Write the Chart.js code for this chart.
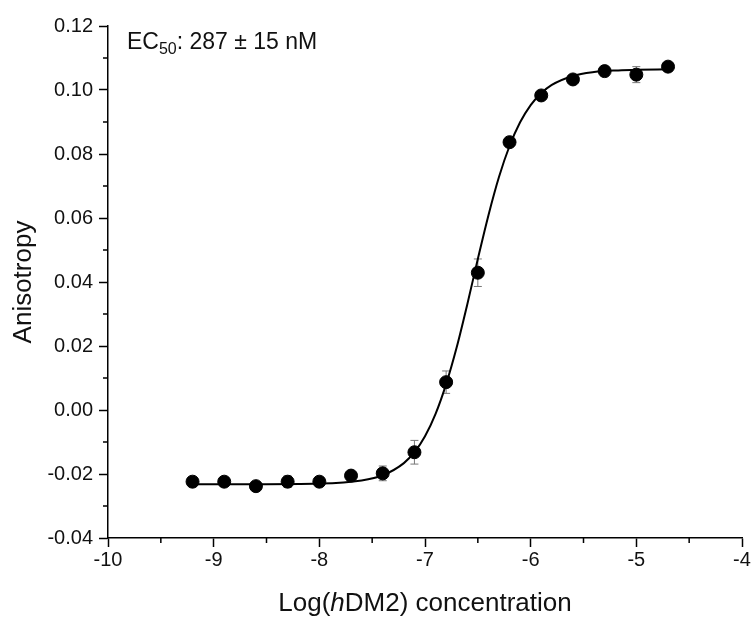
<!DOCTYPE html>
<html>
<head>
<meta charset="utf-8">
<script src="https://cdn.jsdelivr.net/npm/chart.js@4.4.0/dist/chart.umd.min.js"></script>
<style>
  html, body { margin: 0; padding: 0; background: #fff; }
</style>
</head>
<body>
<canvas id="myChart" width="755" height="619"></canvas>
<script>
    // measured points: log concentration, anisotropy, error (sd)
    let logConc = [-9.2, -8.9, -8.6, -8.3, -8.0, -7.7, -7.4, -7.1, -6.8, -6.5, -6.2, -5.9, -5.6, -5.3, -5.0, -4.7];
    let anisotropy = [-0.0224, -0.0224, -0.0238, -0.0224, -0.0224, -0.0205, -0.0198, -0.0132, 0.0087, 0.0429, 0.0837, 0.0983, 0.1033, 0.1059, 0.1048, 0.1073];
    let errors = [0.0012, 0.0008, 0.0008, 0.0018, 0.0012, 0.0012, 0.0023, 0.0037, 0.0035, 0.0043, 0.0006, 0.0006, 0.0008, 0.0006, 0.0025, 0.0006];

    // fitted curve
    let fitX = [-9.2, -8.6, -8.0, -7.6, -7.4, -7.2, -7.1, -7.0, -6.9, -6.8, -6.7, -6.6, -6.5, -6.4, -6.3, -6.2, -6.1, -6.0, -5.9, -5.8, -5.6, -5.4, -5.2, -5.0, -4.7];
    let fitY = [-0.0232, -0.0232, -0.0230, -0.0220, -0.0204, -0.0166, -0.0132, -0.0082, -0.0012, 0.0081, 0.0196, 0.0330, 0.0472, 0.0608, 0.0728, 0.0825, 0.0899, 0.0953, 0.0990, 0.1016, 0.1044, 0.1056, 0.1061, 0.1063, 0.1065];

    let xTicks = [-10, -9, -8, -7, -6, -5, -4];
    let xMinor = [-9.5, -8.5, -7.5, -6.5, -5.5, -4.5];
    let yTicks = [-0.04, -0.02, 0.00, 0.02, 0.04, 0.06, 0.08, 0.10, 0.12];
    let yMinor = [-0.03, -0.01, 0.01, 0.03, 0.05, 0.07, 0.09, 0.11];

    let xTitle = ['Log(', 'h', 'DM2) concentration'];
    let yTitle = 'Anisotropy';
    let ecLabel = ['EC', '50', ': 287 ± 15 nM'];

    const fam = '"Liberation Sans", Arial, sans-serif';

    let points = logConc.map((x, i) => ({x: x, y: anisotropy[i]}));
    let curve = fitX.map((x, i) => ({x: x, y: fitY[i]}));

    const extras = {
        id: 'extras',
        beforeDatasetsDraw(chart) {
            let ctx = chart.ctx;
            let xs = chart.scales.x, ys = chart.scales.y;
            ctx.save();
            ctx.strokeStyle = '#777';
            ctx.lineWidth = 1;
            for (let i = 0; i < logConc.length; i++) {
                let px = xs.getPixelForValue(logConc[i]);
                let top = ys.getPixelForValue(anisotropy[i] + errors[i]);
                let bot = ys.getPixelForValue(anisotropy[i] - errors[i]);
                ctx.beginPath();
                ctx.moveTo(px, top); ctx.lineTo(px, bot);
                ctx.moveTo(px - 4, top); ctx.lineTo(px + 4, top);
                ctx.moveTo(px - 4, bot); ctx.lineTo(px + 4, bot);
                ctx.stroke();
            }
            ctx.restore();
        },
        afterDraw(chart) {
            let ctx = chart.ctx;
            let xs = chart.scales.x, ys = chart.scales.y;
            let area = chart.chartArea;
            ctx.save();
            // minor ticks
            ctx.strokeStyle = '#000';
            ctx.lineWidth = 1.5;
            ctx.beginPath();
            yMinor.forEach(v => {
                let py = ys.getPixelForValue(v);
                ctx.moveTo(area.left, py); ctx.lineTo(area.left - 5, py);
            });
            xMinor.forEach(v => {
                let px = xs.getPixelForValue(v);
                ctx.moveTo(px, area.bottom); ctx.lineTo(px, area.bottom + 5);
            });
            ctx.stroke();

            ctx.fillStyle = '#111';
            ctx.textBaseline = 'alphabetic';

            // x title with italic h
            let normal = '26px ' + fam, ital = 'italic 26px ' + fam;
            ctx.font = normal;
            let w0 = ctx.measureText(xTitle[0]).width;
            let w2 = ctx.measureText(xTitle[2]).width;
            ctx.font = ital;
            let w1 = ctx.measureText(xTitle[1]).width;
            let sx = (area.left + area.right) / 2 - (w0 + w1 + w2) / 2;
            let by = 611;
            ctx.textAlign = 'left';
            ctx.font = normal; ctx.fillText(xTitle[0], sx, by);
            ctx.font = ital; ctx.fillText(xTitle[1], sx + w0, by);
            ctx.font = normal; ctx.fillText(xTitle[2], sx + w0 + w1, by);

            // y title
            ctx.save();
            ctx.translate(31, (area.top + area.bottom) / 2);
            ctx.rotate(-Math.PI / 2);
            ctx.textAlign = 'center';
            ctx.font = normal;
            ctx.fillText(yTitle, 0, 0);
            ctx.restore();

            // EC50 label
            let ex = 127, ey = 49;
            ctx.textAlign = 'left';
            ctx.font = '23px ' + fam;
            ctx.fillText(ecLabel[0], ex, ey);
            ex += ctx.measureText(ecLabel[0]).width;
            ctx.font = '16px ' + fam;
            ctx.fillText(ecLabel[1], ex, ey + 5);
            ex += ctx.measureText(ecLabel[1]).width;
            ctx.font = '23px ' + fam;
            ctx.fillText(ecLabel[2], ex, ey);
            ctx.restore();
        }
    };

    let ctx = document.getElementById('myChart').getContext('2d');
    let chart = new Chart(ctx, {
        type: 'scatter',
        data: {
            datasets: [{
                data: points,
                backgroundColor: '#000',
                borderColor: '#000',
                pointRadius: 6.5,
                pointHoverRadius: 6.5,
                showLine: false
            }, {
                data: curve,
                borderColor: '#000',
                borderWidth: 2,
                pointRadius: 0,
                showLine: true,
                cubicInterpolationMode: 'monotone'
            }]
        },
        options: {
            responsive: false,
            animation: false,
            events: [],
            layout: {padding: {left: 0, top: 26, right: 13, bottom: 0}},
            plugins: {legend: {display: false}, tooltip: {enabled: false}},
            scales: {
                x: {
                    type: 'linear',
                    min: -10,
                    max: -4,
                    afterBuildTicks: s => { s.ticks = xTicks.map(v => ({value: v})); },
                    afterFit: s => { s.height = 81; },
                    ticks: {
                        font: {size: 20, family: fam},
                        color: '#111',
                        padding: 1,
                        maxRotation: 0,
                        callback: v => String(v)
                    },
                    grid: {drawOnChartArea: false, tickLength: 9, tickColor: '#000', tickWidth: 1.5},
                    border: {color: '#000', width: 1.5}
                },
                y: {
                    type: 'linear',
                    min: -0.04,
                    max: 0.12,
                    afterBuildTicks: s => { s.ticks = yTicks.map(v => ({value: v})); },
                    afterFit: s => { s.width = 108; },
                    ticks: {
                        font: {size: 20, family: fam},
                        color: '#111',
                        padding: 6,
                        callback: v => v.toFixed(2)
                    },
                    grid: {drawOnChartArea: false, tickLength: 9, tickColor: '#000', tickWidth: 1.5},
                    border: {color: '#000', width: 1.5}
                }
            }
        },
        plugins: [extras]
    });
</script>
</body>
</html>
